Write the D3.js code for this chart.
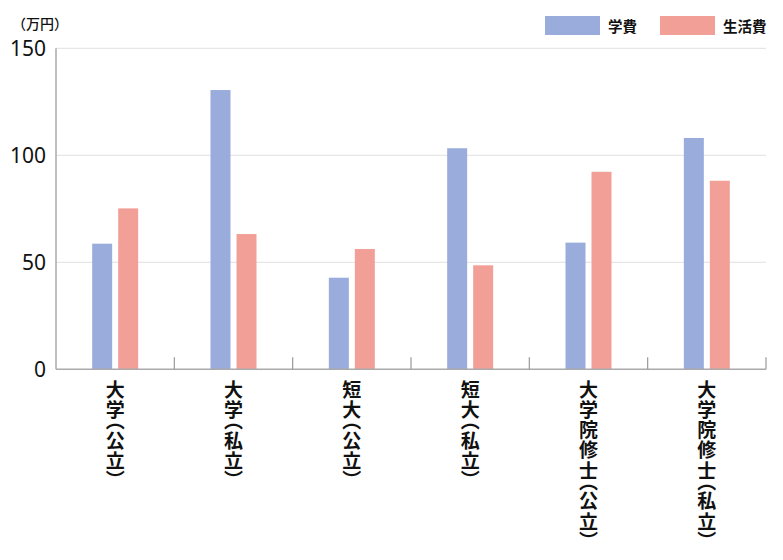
<!DOCTYPE html>
<html><head><meta charset="utf-8">
<script src="https://cdn.jsdelivr.net/npm/d3@7"></script>
<style>
body{margin:0;background:#fff;}
text{font-family:"Noto Sans CJK JP","Noto Sans",sans-serif;}
</style></head>
<body><svg id="c" width="783" height="560"></svg>
<script>
const categories = ["大学（公立）","大学（私立）","短大（公立）","短大（私立）","大学院修士（公立）","大学院修士（私立）"];
const tuition = [58.7, 130.5, 42.8, 103.3, 59.2, 108.1];
const living = [75.2, 63.2, 56.2, 48.6, 92.3, 88.1];
const seriesNames = ["学費","生活費"];
const colors = ["#9aacdb","#f2a097"];
const yTicks = [0, 50, 100, 150];

const svg = d3.select("#c");
const L = 56, R = 766, T = 48.3, B = 369.3;
const x = d3.scaleBand().domain(categories).range([L, R]);
const xs = d3.scaleBand().domain(seriesNames).range([0, 46]).paddingInner(6/26);
const y = d3.scaleLinear().domain([0,150]).range([B, T]);

// gridlines
svg.append("g").selectAll("line").data(yTicks.filter(d=>d>0)).join("line")
  .attr("x1", L).attr("x2", R).attr("y1", d=>y(d)).attr("y2", d=>y(d))
  .attr("stroke", "#e6e6e6").attr("stroke-width", 1.2);

// bars
const data = categories.map((c,i)=>({c, v:[tuition[i], living[i]]}));
const g = svg.append("g").selectAll("g").data(data).join("g")
  .attr("transform", d=>`translate(${x(d.c)+x.bandwidth()/2-23},0)`);
g.selectAll("rect").data(d=>d.v.map((v,k)=>({v,k}))).join("rect")
  .attr("x", d=>xs(seriesNames[d.k])).attr("width", xs.bandwidth())
  .attr("y", d=>y(d.v)).attr("height", d=>B - y(d.v))
  .attr("fill", d=>colors[d.k]);

// axes
svg.append("line").attr("x1", L).attr("x2", L).attr("y1", T).attr("y2", B)
  .attr("stroke", "#aaa").attr("stroke-width", 1.5);
svg.append("line").attr("x1", L).attr("x2", R).attr("y1", B).attr("y2", B)
  .attr("stroke", "#aaa").attr("stroke-width", 1.5);
const bounds = categories.map(c=>x(c)).concat([R]).slice(1);
svg.append("g").selectAll("line").data(bounds).join("line")
  .attr("x1", d=>d).attr("x2", d=>d).attr("y1", B-12).attr("y2", B)
  .attr("stroke", "#999").attr("stroke-width", 1.2);

// y labels
svg.append("g").selectAll("text").data(yTicks).join("text")
  .attr("x", 46).attr("y", d=>y(d)+7.5).attr("text-anchor","end")
  .style("font-family","'Noto Sans',sans-serif")
  .attr("font-size", 21).attr("fill", "#111").text(d=>d);

svg.append("text").attr("x", 12).attr("y", 29).attr("font-size", 14)
  .attr("font-weight", 500).attr("fill","#111").text("（万円）");

// x labels vertical
svg.append("g").selectAll("text").data(categories).join("text")
  .attr("x", d=>x(d)+x.bandwidth()/2).attr("y", 380)
  .style("writing-mode","vertical-rl").style("text-orientation","upright")
  .style("font-feature-settings","'vpal'")
  .style("letter-spacing","1.2px")
  .attr("font-size", 19).attr("font-weight", 700).attr("fill","#111")
  .text(d=>d);

// legend
const lg = svg.append("g");
const lx = [545, 660];
seriesNames.forEach((s,i)=>{
  lg.append("rect").attr("x", lx[i]).attr("y", 16).attr("width", 55).attr("height", 19).attr("fill", colors[i]);
  lg.append("text").attr("x", lx[i]+63).attr("y", 32).attr("font-size", 14.5).attr("font-weight", 700)
    .attr("fill","#111").text(s);
});
</script></body></html>
